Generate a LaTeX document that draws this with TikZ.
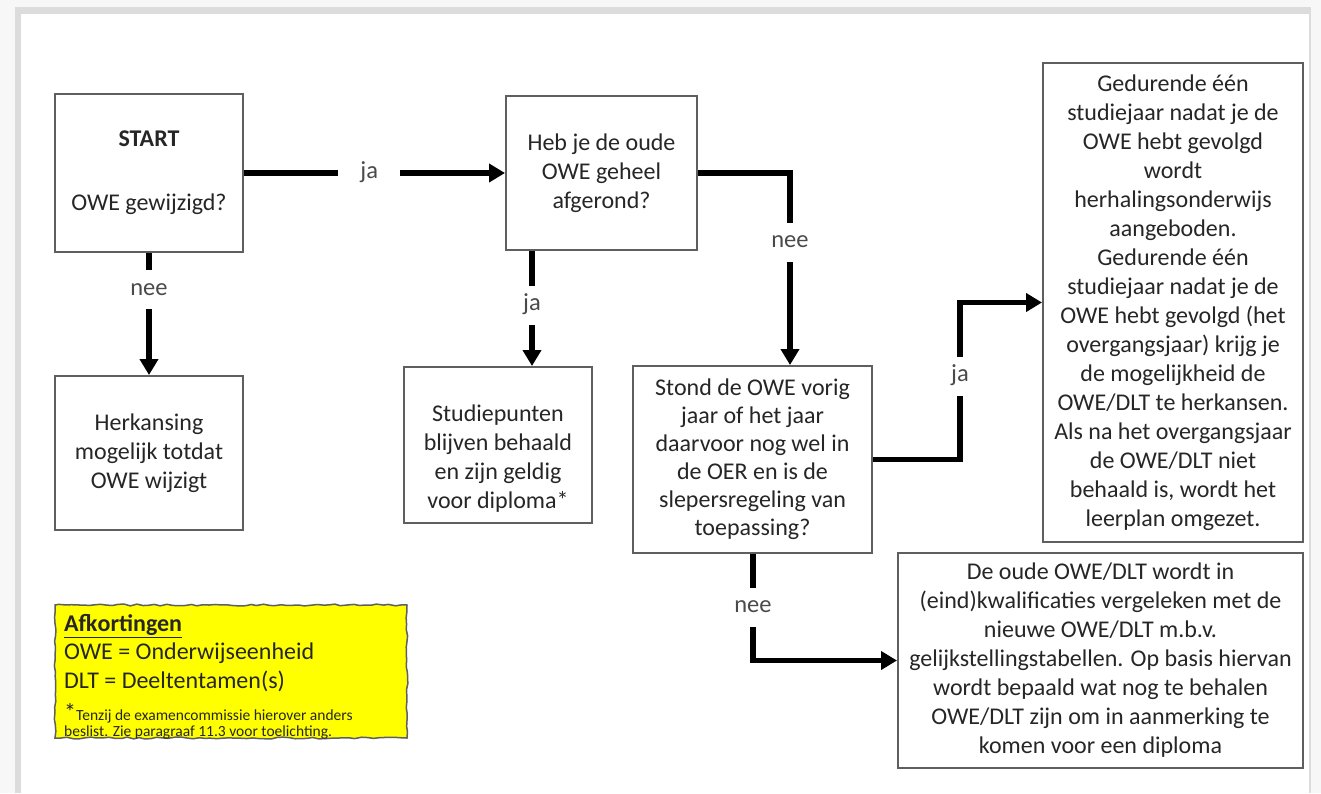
\documentclass[tikz,border=0pt]{standalone}
\usepackage{fontspec}
\setmainfont{Carlito}
\usetikzlibrary{arrows.meta,decorations.pathmorphing}
\definecolor{outer}{HTML}{F7F7F7}
\definecolor{frame}{HTML}{DCDCDC}
\definecolor{boxline}{HTML}{5F5F5F}
\definecolor{txt}{HTML}{262626}
\definecolor{lbltxt}{HTML}{4A4A4A}
\definecolor{legendfill}{HTML}{FFFF00}
\begin{document}
\begin{tikzpicture}[x=1pt, y=-1pt, >={Triangle[length=16pt,width=18pt]},
        box/.style={draw=boxline, line width=2pt, fill=white, align=center, inner sep=0pt, text=txt, font=\fontsize{24}{29}\selectfont},
        flow/.style={->, line width=5.5pt, black},
        lbl/.style={fill=white, text=lbltxt, inner xsep=22pt, inner ysep=9pt, text height=16pt, text depth=5pt, font=\fontsize{24.5}{29}\selectfont}]
        \useasboundingbox (0,0) rectangle (1321,793);
        \fill[outer] (0,0) rectangle (1321,793);
        \fill[frame] (15,7) rectangle (1311,793);
        \fill[white] (21,14) rectangle (1309,793);

        \node[box, minimum width=188pt, minimum height=158pt] (start) at (149,173) {\textbf{START}\\[35pt]OWE gewijzigd?};
        \node[box, minimum width=191pt, minimum height=154pt] (heb) at (601.5,173) {Heb je de oude\\OWE geheel\\afgerond?};
        \node[box, minimum width=188pt, minimum height=154pt] (herk) at (149,453) {Herkansing\\mogelijk totdat\\OWE wijzigt};
        \node[box, minimum width=188pt, minimum height=156pt] (stud) at (498,445) {};
        \node[box, draw=none, fill=none] (studtxt) at (498,459) {Studiepunten\\blijven behaald\\en zijn geldig\\voor diploma*};
        \node[box, minimum width=239pt, minimum height=187pt, font=\fontsize{24}{28}\selectfont] (stond) at (752.5,459.5) {Stond de OWE vorig\\jaar of het jaar\\daarvoor nog wel in\\de OER en is de\\slepersregeling van\\toepassing?};
        \node[box, minimum width=260pt, minimum height=479pt] (big) at (1173,302.5) {Gedurende één\\studiejaar nadat je de\\OWE hebt gevolgd\\wordt\\herhalingsonderwijs\\aangeboden.\\Gedurende één\\studiejaar nadat je de\\OWE hebt gevolgd (het\\overgangsjaar) krijg je\\de mogelijkheid de\\OWE/DLT te herkansen.\\Als na het overgangsjaar\\de OWE/DLT niet\\behaald is, wordt het\\leerplan omgezet.};
        \node[box, minimum width=405pt, minimum height=215pt] (low) at (1100.5,660.5) {De oude OWE/DLT wordt in\\(eind)kwalificaties vergeleken met de\\nieuwe OWE/DLT m.b.v.\\gelijkstellingstabellen. Op basis hiervan\\wordt bepaald wat nog te behalen\\OWE/DLT zijn om in aanmerking te\\komen voor een diploma};

        \pgfmathsetseed{7}
        \draw[draw=boxline, line width=1.5pt, fill=legendfill, decorate, decoration={random steps, segment length=6pt, amplitude=0.9pt}] (55,605) rectangle (407,738);
        \node[anchor=north west, align=left, inner sep=0pt, text=txt, font=\fontsize{24}{28.5}\selectfont] (afk) at (64,614) {\underline{\textbf{Afkortingen}}\\OWE = Onderwijseenheid\\DLT = Deeltentamen(s)};
        \node[anchor=north west, align=left, inner sep=0pt, text=txt, font=\fontsize{15.5}{16.5}\selectfont] (note) at (64,703) {{\fontsize{24}{16.5}\selectfont *}Tenzij de examencommissie hierover anders\\beslist. Zie paragraaf 11.3 voor toelichting.};

        \coordinate (jax) at (532,0);
        \coordinate (neex) at (790,0);
        \coordinate (jaright) at (960,0);
        \coordinate (neelow) at (753,0);

        \draw[flow] (start.east) -- node[lbl, pos=0.48] {ja} (heb.west);
        \draw[flow] (start.south) -- node[lbl, pos=0.3] {nee} (herk.north);
        \draw[flow] (heb.south -| jax) -- node[lbl, pos=0.47] {ja} (stud.north -| jax);
        \draw[flow] (heb.east) -| node[lbl, pos=0.68] {nee} (stond.north -| neex);
        \draw[flow] (stond.east) -- (stond.east -| jaright) -- node[lbl, pos=0.53] {ja} (big.west -| jaright) -- (big.west);
        \draw[flow] (stond.south -| neelow) |- node[lbl, pos=0.25] {nee} (low.west);
\end{tikzpicture}
\end{document}
